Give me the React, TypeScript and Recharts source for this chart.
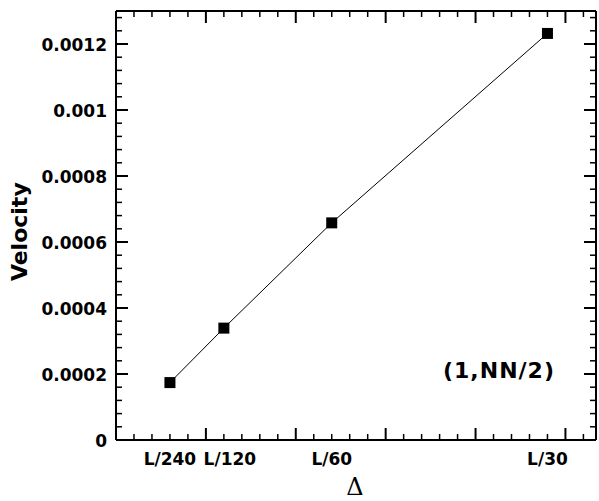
import { Line, LineChart, XAxis, YAxis } from 'recharts';

const deltas = [0.6, 1.2, 2.4, 4.8];
const deltaLabels = ['L/240', 'L/120', 'L/60', 'L/30'];
const velocity = [0.000174, 0.000339, 0.000658, 0.001232];

const xTicks = [
  0, 0.2, 0.4, 0.6, 0.8, 1, 1.2, 1.4, 1.6, 1.8, 2, 2.2, 2.4, 2.6, 2.8, 3, 3.2, 3.4, 3.6, 3.8, 4, 4.2, 4.4,
  4.6, 4.8, 5, 5.2,
];
const yMajor = [0, 0.0002, 0.0004, 0.0006, 0.0008, 0.001, 0.0012];
const yLabels = ['0', '0.0002', '0.0004', '0.0006', '0.0008', '0.001', '0.0012'];
// 5 minor steps per major step
const yTicks = Array.from({ length: 33 }, (_, i) => i * 0.00004);

const data = deltas.map((delta, i) => ({ delta, velocity: velocity[i] }));

const TICK_FONT = { fontFamily: '"DejaVu Sans", sans-serif', fontWeight: 700, fontSize: 17, fill: '#000' };
const isMultiple = (v: number, step: number) => Math.abs(v / step - Math.round(v / step)) < 1e-6;

function BottomTick({ x, y, payload }: any) {
  const v = payload.value;
  const major = isMultiple(v, 1);
  const i = deltas.findIndex((d) => Math.abs(d - v) < 1e-6);
  return (
    <g>
      <line x1={x} x2={x} y1={y} y2={y - (major ? 12 : 6)} stroke="#000" strokeWidth={major ? 2 : 1.5} />
      {i >= 0 && (
        <text x={x + (i === 1 ? 6 : 0)} y={y + 25} textAnchor="middle" style={TICK_FONT}>
          {deltaLabels[i]}
        </text>
      )}
    </g>
  );
}

function TopTick({ x, y, payload }: any) {
  const major = isMultiple(payload.value, 1);
  return <line x1={x} x2={x} y1={y} y2={y + (major ? 12 : 6)} stroke="#000" strokeWidth={major ? 2 : 1.5} />;
}

function LeftTick({ x, y, payload }: any) {
  const v = payload.value;
  const major = isMultiple(v, 0.0002);
  const i = yMajor.findIndex((m) => Math.abs(m - v) < 1e-9);
  return (
    <g>
      <line x1={x} x2={x + (major ? 12 : 6)} y1={y} y2={y} stroke="#000" strokeWidth={major ? 2 : 1.5} />
      {major && i >= 0 && (
        <text x={x - 9} y={y + 6.5} textAnchor="end" style={TICK_FONT}>
          {yLabels[i]}
        </text>
      )}
    </g>
  );
}

function RightTick({ x, y, payload }: any) {
  const major = isMultiple(payload.value, 0.0002);
  return <line x1={x} x2={x - (major ? 12 : 6)} y1={y} y2={y} stroke="#000" strokeWidth={major ? 2 : 1.5} />;
}

function SquareDot({ cx, cy }: any) {
  if (cx == null || cy == null) return null;
  return <rect x={cx - 5.5} y={cy - 5.5} width={11} height={11} fill="#000" />;
}

const AXIS_LINE = { stroke: '#000', strokeWidth: 2 };

export default function App() {
  return (
    <div style={{ position: 'absolute', left: 0, top: 0, background: '#fff' }}>
      <LineChart width={599} height={501} data={data} margin={{ top: 10, right: 2, bottom: 0, left: 0 }}>
        <XAxis
          xAxisId="b"
          dataKey="delta"
          type="number"
          domain={[0, 5.34]}
          allowDataOverflow
          ticks={xTicks}
          interval={0}
          tick={BottomTick}
          tickLine={false}
          tickSize={0}
          tickMargin={0}
          axisLine={AXIS_LINE}
          height={61}
        />
        <XAxis
          xAxisId="t"
          dataKey="delta"
          orientation="top"
          type="number"
          domain={[0, 5.34]}
          allowDataOverflow
          ticks={xTicks}
          interval={0}
          tick={TopTick}
          tickLine={false}
          tickSize={0}
          tickMargin={0}
          axisLine={AXIS_LINE}
          height={1}
        />
        <YAxis
          yAxisId="l"
          type="number"
          domain={[0, 0.0013]}
          allowDataOverflow
          ticks={yTicks}
          interval={0}
          tick={LeftTick}
          tickLine={false}
          tickSize={0}
          tickMargin={0}
          axisLine={AXIS_LINE}
          width={116}
        />
        <YAxis
          yAxisId="r"
          orientation="right"
          type="number"
          domain={[0, 0.0013]}
          allowDataOverflow
          ticks={yTicks}
          interval={0}
          tick={RightTick}
          tickLine={false}
          tickSize={0}
          tickMargin={0}
          axisLine={AXIS_LINE}
          width={1}
        />
        {/* invisible series tied to the top/right frame axes so they get a scale and ticks */}
        <Line
          xAxisId="t"
          yAxisId="r"
          dataKey="velocity"
          stroke="none"
          dot={false}
          activeDot={false}
          legendType="none"
          isAnimationActive={false}
        />
        <Line
          xAxisId="b"
          yAxisId="l"
          dataKey="velocity"
          type="linear"
          stroke="#000"
          strokeWidth={1}
          dot={<SquareDot />}
          activeDot={false}
          isAnimationActive={false}
        />
        <text
          transform="translate(27,231.7) rotate(-90)"
          textAnchor="middle"
          style={{ fontFamily: '"DejaVu Sans", sans-serif', fontWeight: 700, fontSize: 22, fill: '#000' }}
        >
          Velocity
        </text>
        <text
          x={355}
          y={495}
          textAnchor="middle"
          style={{ fontFamily: '"DejaVu Serif", serif', fontSize: 24, fill: '#000' }}
        >
          Δ
        </text>
        <text
          x={443}
          y={378}
          style={{
            fontFamily: '"DejaVu Sans", sans-serif',
            fontWeight: 700,
            fontSize: 22,
            letterSpacing: 1,
            fill: '#000',
          }}
        >
          (1,NN/2)
        </text>
      </LineChart>
    </div>
  );
}
